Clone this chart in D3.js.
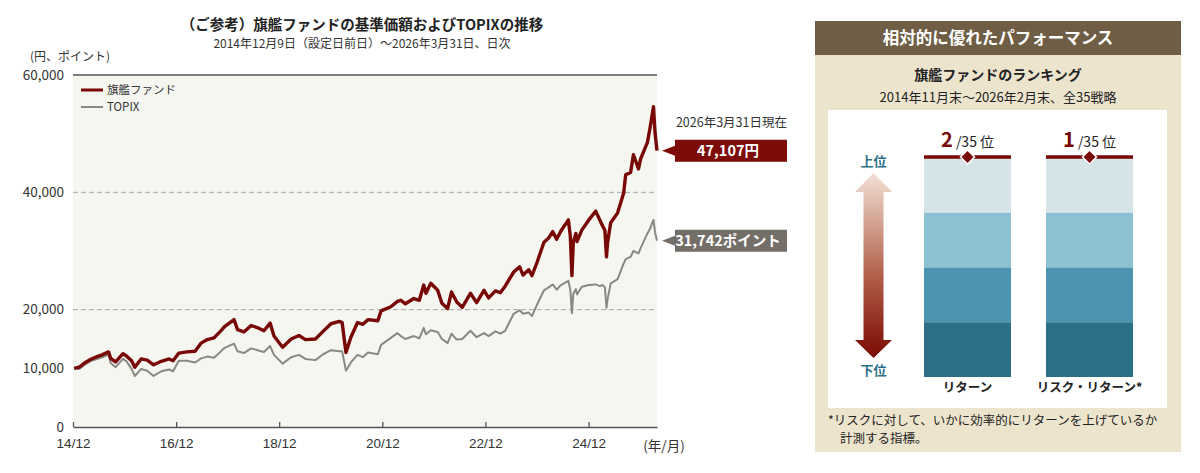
<!DOCTYPE html>
<html>
<head>
<meta charset="utf-8">
<script src="https://cdn.jsdelivr.net/npm/d3@7"></script>
<style>
  body { margin: 0; background: #fff; }
  svg { display: block; font-family: "Noto Sans CJK JP", "Noto Sans", sans-serif; }
  .tick-label { font-size: 13.5px; fill: #333; }
</style>
</head>
<body>
<div id="chart"></div>
<script>
// ---- data ----
const dates = ["2014-12-09","2015-01-15","2015-02-20","2015-04-10","2015-05-20","2015-06-25","2015-08-10","2015-08-25","2015-09-29","2015-11-20","2015-12-15","2016-01-20","2016-02-12","2016-03-28","2016-05-10","2016-06-24","2016-08-18","2016-10-12","2016-11-09","2016-12-20","2017-02-15","2017-04-14","2017-05-27","2017-07-10","2017-08-26","2017-10-10","2017-11-09","2018-01-15","2018-02-09","2018-03-26","2018-05-16","2018-07-13","2018-08-15","2018-09-28","2018-10-25","2018-12-25","2019-02-24","2019-04-20","2019-06-05","2019-08-15","2019-10-08","2019-12-03","2020-01-31","2020-02-20","2020-03-18","2020-04-22","2020-06-08","2020-07-16","2020-08-21","2020-10-30","2020-11-22","2021-01-30","2021-03-18","2021-04-11","2021-05-13","2021-07-12","2021-08-20","2021-09-20","2021-10-06","2021-11-09","2021-12-28","2022-01-27","2022-03-08","2022-04-05","2022-05-12","2022-06-20","2022-08-17","2022-09-30","2022-11-21","2022-12-24","2023-02-10","2023-03-17","2023-04-20","2023-06-19","2023-08-01","2023-08-25","2023-10-04","2023-10-27","2023-12-01","2024-01-20","2024-02-22","2024-03-22","2024-04-19","2024-05-19","2024-07-11","2024-07-25","2024-08-05","2024-08-15","2024-09-02","2024-09-10","2024-10-15","2024-12-03","2025-01-21","2025-02-20","2025-03-10","2025-03-27","2025-04-07","2025-04-15","2025-05-07","2025-06-25","2025-08-07","2025-08-21","2025-09-25","2025-10-15","2025-11-20","2025-12-05","2026-01-22","2026-02-10","2026-03-06","2026-03-17","2026-03-31"];
const fund = [10000,10200,10900,11600,12000,12300,12800,11700,11100,12500,12100,11300,10200,11600,11400,10600,11200,11600,11300,12600,12800,12900,14300,14900,15200,16300,17100,18300,16600,16200,17300,16800,16400,17700,15500,13600,15000,15600,14900,15000,16300,17600,18000,17800,12700,15300,17800,17500,18300,18100,19800,20500,21400,21600,21000,21900,21600,24200,22800,24500,23300,21100,20200,23000,21300,20400,22800,21200,23300,22000,23200,22900,24000,26400,27300,25900,26800,25800,28000,31500,32200,33300,32000,33400,35300,32500,25800,31500,33000,31600,33600,35300,36800,35200,34300,33500,29000,31500,34800,36500,39900,43000,43400,46400,44000,45700,48500,51000,54600,50200,47107];
const topix = [10000,9900,10600,11300,11600,11900,12300,10900,10200,11600,11200,9900,8700,9900,9600,8700,9500,9800,9500,11300,11300,11000,11700,12000,11800,12800,13500,14200,12900,12600,13400,13000,12800,13800,12300,10800,11900,12300,11600,11400,12400,13100,12900,12900,9600,11000,12300,11900,12700,12400,14000,15200,16000,15500,15000,15500,15100,16900,15800,16500,16200,15000,14300,15900,14900,15000,16400,15300,16000,15500,16300,15900,16400,19300,19900,19300,19500,18900,20800,23300,23800,24300,23400,24200,24900,23400,19400,22700,23500,22600,23900,24200,24300,24000,24200,23800,20300,21800,24500,25200,27900,28600,29000,30000,29600,30500,33000,33800,35300,33200,31742];

const seriesNames = ["旗艦ファンド", "TOPIX"];
const yTicks = [0, 10000, 20000, 40000, 60000];
const gridTicks = [20000, 40000];
const xTickDates = ["2014-12-01","2016-12-01","2018-12-01","2020-12-01","2022-12-01","2024-12-01"];
const endLabels = ["47,107円", "31,742ポイント"];

// ranking panel
const strategies = ["リターン", "リスク・リターン*"];
const ranks = [2, 1];
const totalStrategies = 35;
const quartiles = [0, 1, 2, 3];

// ---- setup ----
const W = 1200, H = 473;
const red = "#780806", gray = "#8a8885";
const parse = d3.timeParse("%Y-%m-%d");
const fmtTick = d3.timeFormat("%y/%m");

const svg = d3.select("#chart").append("svg").attr("width", W).attr("height", H);

const x = d3.scaleTime()
  .domain([parse("2014-12-01"), parse("2026-03-31")])
  .range([73, 657]);
const y = d3.scaleLinear().domain([0, 60000]).range([427, 75]);

// plot background
svg.append("rect")
  .attr("x", x.range()[0]).attr("y", y(60000))
  .attr("width", x.range()[1] - x.range()[0]).attr("height", y(0) - y(60000))
  .attr("fill", "#f6f6f1");

// gridlines
svg.append("g").selectAll("line").data(gridTicks).join("line")
  .attr("x1", x.range()[0]).attr("x2", x.range()[1])
  .attr("y1", d => y(d)).attr("y2", d => y(d))
  .attr("stroke", "#a5a5a5").attr("stroke-width", 1).attr("stroke-dasharray", "5,3");

// top line
svg.append("line")
  .attr("x1", x.range()[0]).attr("x2", x.range()[1])
  .attr("y1", y(60000)).attr("y2", y(60000))
  .attr("stroke", "#555").attr("stroke-width", 1.3);

// y labels
svg.append("g").selectAll("text").data(yTicks).join("text")
  .attr("class", "tick-label")
  .attr("x", 64).attr("y", d => y(d)).attr("dy", "0.35em")
  .attr("text-anchor", "end")
  .text(d => d3.format(",")(d));

svg.append("text").attr("class", "tick-label")
  .attr("x", 70).attr("y", 57).attr("dy", "0.35em").attr("text-anchor", "middle")
  .style("font-size", "12px")
  .text("(円、ポイント)");

// x axis
const xAxis = d3.axisBottom(x)
  .tickValues(xTickDates.map(parse))
  .tickSizeInner(-5).tickSizeOuter(0)
  .tickFormat(fmtTick);
const gx = svg.append("g").attr("transform", `translate(0,${y(0)})`).call(xAxis);
gx.select(".domain").attr("stroke", "#555").attr("stroke-width", 1.5);
gx.selectAll(".tick line").attr("stroke", "#555").attr("stroke-width", 1.3);
gx.selectAll(".tick text").attr("class", "tick-label").attr("y", 11).attr("dy", "0.71em")
  .style("font-family", "inherit");
svg.append("text").attr("class", "tick-label")
  .attr("x", 664).attr("y", 446).attr("dy", "0.35em").attr("text-anchor", "middle")
  .text("(年/月)");

// lines
const rows = dates.map((d, i) => ({ date: parse(d), fund: fund[i], topix: topix[i] }));
const lineOf = key => d3.line().x(d => x(d.date)).y(d => y(d[key]));

svg.append("path").datum(rows)
  .attr("fill", "none").attr("stroke", gray).attr("stroke-width", 2)
  .attr("stroke-linejoin", "round").attr("d", lineOf("topix"));
svg.append("path").datum(rows)
  .attr("fill", "none").attr("stroke", red).attr("stroke-width", 3.4)
  .attr("stroke-linejoin", "round").attr("d", lineOf("fund"));

// legend
const legend = svg.append("g").attr("transform", "translate(81,90)");
[red, gray].forEach((c, i) => {
  legend.append("line").attr("x1", 0).attr("x2", 22).attr("y1", i * 17).attr("y2", i * 17)
    .attr("stroke", c).attr("stroke-width", i === 0 ? 3 : 2);
  legend.append("text").attr("x", 26).attr("y", i * 17).attr("dy", "0.35em")
    .style("font-size", "11.5px").attr("fill", "#333").text(seriesNames[i]);
});

// titles
svg.append("text").attr("x", 362).attr("y", 25).attr("dy", "0.35em").attr("text-anchor", "middle")
  .style("font-size", "14.5px").style("font-weight", "bold").attr("fill", "#222")
  .text("（ご参考）旗艦ファンドの基準価額およびTOPIXの推移");
svg.append("text").attr("x", 362).attr("y", 44).attr("dy", "0.35em").attr("text-anchor", "middle")
  .style("font-size", "12px").attr("fill", "#333")
  .text("2014年12月9日（設定日前日）～2026年3月31日、日次");

// end callouts
svg.append("text").attr("x", 787).attr("y", 123).attr("dy", "0.35em").attr("text-anchor", "end")
  .style("font-size", "12.5px").attr("fill", "#333").text("2026年3月31日現在");

const last = rows[rows.length - 1];
[{ v: last.fund, c: "#7d0b07" }, { v: last.topix, c: "#746e68" }].forEach((o, i) => {
  const cy = y(o.v);
  const x0 = 675, x1 = 787, h = 22, tip = 662;
  svg.append("path")
    .attr("d", `M${tip},${cy} L${x0},${cy - 5} L${x0},${cy - h / 2} L${x1},${cy - h / 2} L${x1},${cy + h / 2} L${x0},${cy + h / 2} L${x0},${cy + 5} Z`)
    .attr("fill", o.c);
  svg.append("text").attr("x", (x0 + x1) / 2 - 3).attr("y", cy).attr("dy", "0.36em")
    .attr("text-anchor", "middle").attr("fill", "#fff")
    .style("font-size", "14.5px").style("font-weight", "bold")
    .text(endLabels[i]);
});

// ---- right panel ----
const panel = svg.append("g");
panel.append("rect").attr("x", 815).attr("y", 21).attr("width", 366).attr("height", 431).attr("fill", "#ede4cd");
panel.append("rect").attr("x", 815).attr("y", 21).attr("width", 366).attr("height", 34).attr("fill", "#6f5e45");
panel.append("text").attr("x", 998).attr("y", 38).attr("dy", "0.36em").attr("text-anchor", "middle")
  .attr("fill", "#fff").style("font-size", "16.5px").style("font-weight", "bold")
  .text("相対的に優れたパフォーマンス");
panel.append("text").attr("x", 998).attr("y", 75).attr("dy", "0.36em").attr("text-anchor", "middle")
  .attr("fill", "#222").style("font-size", "14px").style("font-weight", "bold")
  .text("旗艦ファンドのランキング");
panel.append("text").attr("x", 998).attr("y", 97).attr("dy", "0.36em").attr("text-anchor", "middle")
  .attr("fill", "#222").style("font-size", "13px")
  .text("2014年11月末～2026年2月末、全35戦略");
panel.append("rect").attr("x", 828).attr("y", 110).attr("width", 339).attr("height", 298).attr("fill", "#fff");

panel.append("text").attr("x", 828).attr("y", 420).attr("dy", "0.36em")
  .attr("fill", "#222").style("font-size", "12.5px")
  .text("*リスクに対して、いかに効率的にリターンを上げているか");
panel.append("text").attr("x", 840).attr("y", 438).attr("dy", "0.36em")
  .attr("fill", "#222").style("font-size", "12.5px")
  .text("計測する指標。");

// bars
const bx = d3.scalePoint().domain(strategies).range([967.5, 1089.5]);
const barW = 87;
const qy = d3.scaleLinear().domain([0, 4]).range([158, 377]);
const qColor = d3.scaleOrdinal().domain(quartiles).range(["#d5e4e6", "#8cc1d3", "#4b93ae", "#2c7088"]);
const rankY = d3.scaleLinear().domain([1, totalStrategies]).range([157, 377]);

strategies.forEach((s, i) => {
  const g = panel.append("g");
  const cx = bx(s);
  g.selectAll("rect").data(quartiles).join("rect")
    .attr("x", cx - barW / 2).attr("width", barW)
    .attr("y", d => qy(d)).attr("height", qy(1) - qy(0))
    .attr("fill", d => qColor(d));
  const my = Math.min(rankY(ranks[i]), 157);
  g.append("line").attr("x1", cx - barW / 2).attr("x2", cx + barW / 2)
    .attr("y1", my).attr("y2", my).attr("stroke", red).attr("stroke-width", 3.5);
  g.append("path")
    .attr("d", `M${cx},${my - 7} L${cx + 7},${my} L${cx},${my + 7} L${cx - 7},${my} Z`)
    .attr("fill", red).attr("stroke", "#fff").attr("stroke-width", 1.5);
  const t = g.append("text").attr("x", cx).attr("y", 147).attr("text-anchor", "middle").attr("fill", "#222");
  t.append("tspan").attr("fill", red).style("font-size", "20px").style("font-weight", "bold").text(ranks[i]);
  t.append("tspan").style("font-size", "14px").text(" /" + totalStrategies + " 位");
  g.append("text").attr("x", cx).attr("y", 387).attr("dy", "0.36em").attr("text-anchor", "middle")
    .attr("fill", "#222").style("font-size", "12.5px").style("font-weight", "bold").text(s);
});

// rank arrow
const defs = svg.append("defs");
const grad = defs.append("linearGradient").attr("id", "arrowGrad")
  .attr("x1", 0).attr("x2", 0).attr("y1", 0).attr("y2", 1);
grad.append("stop").attr("offset", "0%").attr("stop-color", "#f2e1d6");
grad.append("stop").attr("offset", "55%").attr("stop-color", "#b2614a");
grad.append("stop").attr("offset", "100%").attr("stop-color", "#7a0a02");

const ax = 873.5, sw = 10, hw = 18.5;
panel.append("path")
  .attr("d", `M${ax},173 L${ax + hw},192 L${ax + sw},192 L${ax + sw},340 L${ax + hw},340 L${ax},358 L${ax - hw},340 L${ax - sw},340 L${ax - sw},192 L${ax - hw},192 Z`)
  .attr("fill", "url(#arrowGrad)");
panel.append("text").attr("x", ax).attr("y", 161).attr("dy", "0.36em").attr("text-anchor", "middle")
  .attr("fill", "#2c7088").style("font-size", "13px").style("font-weight", "bold").text("上位");
panel.append("text").attr("x", ax).attr("y", 370).attr("dy", "0.36em").attr("text-anchor", "middle")
  .attr("fill", "#2c7088").style("font-size", "13px").style("font-weight", "bold").text("下位");
</script>
</body>
</html>
